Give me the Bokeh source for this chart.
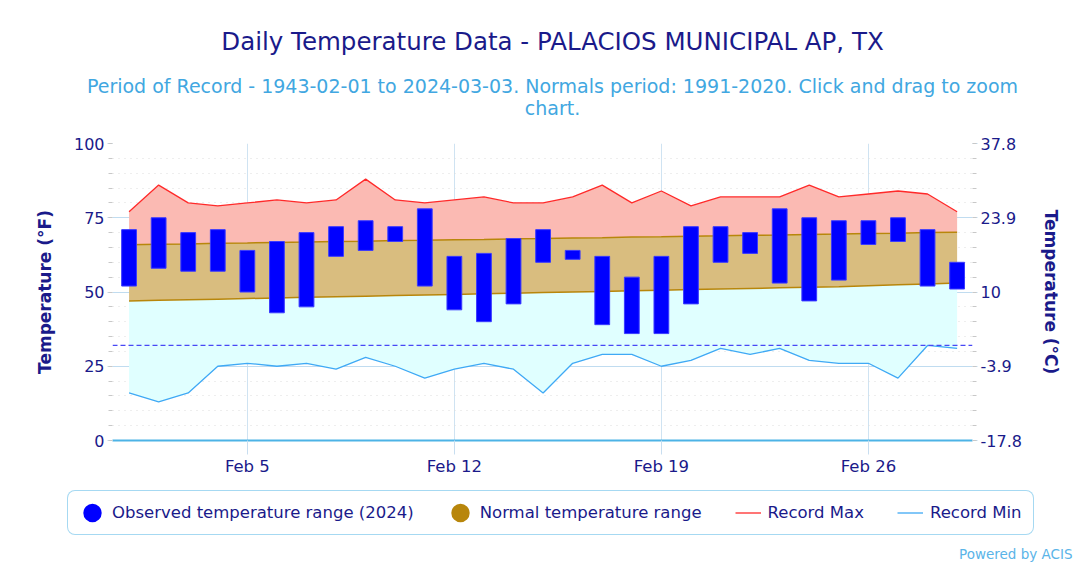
from bokeh.plotting import figure
from bokeh.layouts import column
from bokeh.models import (Range1d, FixedTicker, LinearAxis, Span, Legend, LegendItem,
                          Label, ColumnDataSource, Plot)
from bokeh.embed import file_html
from bokeh.resources import INLINE

# ---------------- data ----------------
days = [1, 2, 3, 4, 5, 6, 7, 8, 9, 10, 11, 12, 13, 14, 15, 16, 17, 18, 19, 20,
        21, 22, 23, 24, 25, 26, 27, 28, 29]
obs_max = [71, 75, 70, 71, 64, 67, 70, 72, 74, 72, 78, 62, 63, 68, 71, 64, 62, 55, 62, 72,
           72, 70, 78, 75, 74, 74, 75, 71, 60]
obs_min = [52, 58, 57, 57, 50, 43, 45, 62, 64, 67, 52, 44, 40, 46, 60, 61, 39, 36, 36, 46,
           60, 63, 53, 47, 54, 66, 67, 52, 51]
norm_max = [65.9, 66.1, 66.2, 66.4, 66.5, 66.7, 66.8, 67.0, 67.1, 67.3, 67.4, 67.6, 67.7, 67.9,
            68.0, 68.2, 68.3, 68.5, 68.6, 68.8, 68.9, 69.1, 69.2, 69.4, 69.5, 69.7, 69.8, 70.0, 70.1]
norm_min = [47.0, 47.2, 47.4, 47.6, 47.8, 48.0, 48.2, 48.4, 48.6, 48.8, 49.0, 49.2, 49.4, 49.6,
            49.8, 50.0, 50.2, 50.4, 50.6, 50.8, 51.0, 51.2, 51.4, 51.6, 51.8, 52.1, 52.4, 52.7, 53.0]
rec_max = [77, 86, 80, 79, 80, 81, 80, 81, 88, 81, 80, 81, 82, 80, 80, 82, 86, 80, 84, 79,
           82, 82, 82, 86, 82, 83, 84, 83, 77]
rec_min = [16, 13, 16, 25, 26, 25, 26, 24, 28, 25, 21, 24, 26, 24, 16, 26, 29, 29, 25, 27,
           31, 29, 31, 27, 26, 26, 21, 32, 31]
freezing = 32

tick_days = [5, 12, 19, 26]
tick_labels = ["Feb 5", "Feb 12", "Feb 19", "Feb 26"]
f_ticks = [0, 25, 50, 75, 100]
f_minor_ticks = [0, 5, 10, 15, 20, 25, 30, 35, 40, 45, 50, 55, 60, 65, 70, 75, 80, 85, 90, 95, 100]
c_tick_labels = ["-17.8", "-3.9", "10", "23.9", "37.8"]

title_text = "Daily Temperature Data - PALACIOS MUNICIPAL AP, TX"
subtitle_line1 = "Period of Record - 1943-02-01 to 2024-03-03. Normals period: 1991-2020. Click and drag to zoom"
subtitle_line2 = "chart."
credit_text = "Powered by ACIS"
legend_labels = ["Observed temperature range (2024)", "Normal temperature range",
                 "Record Max", "Record Min"]

FONT = "DejaVu Sans"
NAVY = "#1a1a8a"
SUB = "#41a7e1"
C_OBS = "#0000ff"
C_NORM_FILL = "#d9bd7f"
C_NORM = "#b8860b"
C_RMAX = "#ff2a2a"
C_RMIN = "#3fa9f5"

HAS_FRAME_ALIGN = "frame_align" in Plot.properties()


def blank_fig(h):
    kw = {}
    if HAS_FRAME_ALIGN:
        kw["frame_align"] = False
    f = figure(width=1076, height=h, output_backend="svg", toolbar_location=None,
               x_axis_type=None, y_axis_type=None, title=None,
               x_range=Range1d(0, 1), y_range=Range1d(0, 1),
               min_border=0, min_border_left=0, min_border_right=0,
               min_border_top=0, min_border_bottom=0,
               outline_line_color=None, background_fill_color="white",
               border_fill_color="white", **kw)
    f.grid.visible = False
    return f


# ---------------- title strip ----------------
top = blank_fig(133)
top.add_layout(Label(x=552, y=92, x_units="screen", y_units="screen", text=title_text,
                     text_align="center", text_baseline="middle", text_font=FONT,
                     text_font_size="24.5px", text_color=NAVY))
top.add_layout(Label(x=552, y=48, x_units="screen", y_units="screen", text=subtitle_line1,
                     text_align="center", text_baseline="middle", text_font=FONT,
                     text_font_size="19px", text_color=SUB))
top.add_layout(Label(x=552, y=26, x_units="screen", y_units="screen", text=subtitle_line2,
                     text_align="center", text_baseline="middle", text_font=FONT,
                     text_font_size="19px", text_color=SUB))

# ---------------- main chart ----------------
src = ColumnDataSource(dict(day=days, obs_max=obs_max, obs_min=obs_min,
                            norm_max=norm_max, norm_min=norm_min,
                            rec_max=rec_max, rec_min=rec_min))

pkw = {"frame_align": False} if HAS_FRAME_ALIGN else {}
p = figure(frame_width=860, frame_height=297, output_backend="svg", toolbar_location=None,
           x_range=Range1d(0.44, 29.52), y_range=Range1d(0, 100), title=None,
           min_border_left=112, min_border_right=104, min_border_top=10, min_border_bottom=40,
           outline_line_color=None, background_fill_color="white", border_fill_color="white",
           **pkw)

p.varea(x="day", y1="rec_min", y2="norm_min", source=src, fill_color="#e0ffff")
p.varea(x="day", y1="norm_max", y2="rec_max", source=src, fill_color="#fbbab3")
p.varea(x="day", y1="norm_min", y2="norm_max", source=src, fill_color=C_NORM_FILL)
p.line(x="day", y="norm_max", source=src, line_color=C_NORM, line_width=1.5)
p.line(x="day", y="norm_min", source=src, line_color=C_NORM, line_width=1.5)

p.add_layout(Span(location=freezing, dimension="width", line_color="#4848f5",
                  line_dash="5 3", line_width=1.3))

p.line(x="day", y="rec_max", source=src, line_color=C_RMAX, line_width=1.3)
p.line(x="day", y="rec_min", source=src, line_color=C_RMIN, line_width=1.3)

p.vbar(x="day", width=0.5, bottom="obs_min", top="obs_max", source=src,
       fill_color=C_OBS, line_color="#3a3aff", line_width=1)

xa = p.xaxis[0]
xa.ticker = FixedTicker(ticks=tick_days)
xa.major_label_overrides = {d: l for d, l in zip(tick_days, tick_labels)}
xa.axis_line_color = "#4db3e6"
xa.axis_line_width = 2
xa.major_tick_out = 14
xa.major_tick_in = 0
xa.major_tick_line_color = "#c8def0"
xa.minor_tick_line_color = None
xa.major_label_standoff = 2
xa.major_label_text_font = FONT
xa.major_label_text_font_size = "16.5px"
xa.major_label_text_color = NAVY

p.xgrid.ticker = FixedTicker(ticks=tick_days)
p.xgrid.grid_line_color = "#cfe3f2"

yticker = FixedTicker(ticks=f_ticks, minor_ticks=f_minor_ticks)


def style_y(ax, label):
    ax.axis_line_color = None
    ax.major_tick_out = 5
    ax.major_tick_in = 0
    ax.major_tick_line_color = "#c0dcf0"
    ax.minor_tick_out = 4
    ax.minor_tick_in = 0
    ax.minor_tick_line_color = "#c8c8c8"
    ax.major_label_standoff = 3
    ax.major_label_text_font = FONT
    ax.major_label_text_font_size = "16px"
    ax.major_label_text_color = NAVY
    ax.axis_label = label
    ax.axis_label_text_font = FONT
    ax.axis_label_text_font_size = "17px"
    ax.axis_label_text_font_style = "bold"
    ax.axis_label_text_color = NAVY
    ax.axis_label_standoff = 16


ya = p.yaxis[0]
ya.ticker = yticker
style_y(ya, "Temperature (°F)")

ra = LinearAxis(ticker=FixedTicker(ticks=f_ticks, minor_ticks=f_minor_ticks),
                major_label_overrides={f: c for f, c in zip(f_ticks, c_tick_labels)})
style_y(ra, "Temperature (°C)")
p.add_layout(ra, "right")

p.ygrid.ticker = yticker
p.ygrid.grid_line_color = "#c0dcf0"
p.ygrid.minor_grid_line_color = "#dddddd"
p.ygrid.minor_grid_line_dash = "1 5"

# ---------------- legend strip ----------------
bot = blank_fig(96)
nan = float("nan")
g_obs = bot.scatter(x=[nan], y=[nan], marker="circle", size=9, fill_color=C_OBS,
                    line_color=C_OBS, line_width=10)
g_norm = bot.scatter(x=[nan], y=[nan], marker="circle", size=9, fill_color=C_NORM,
                     line_color=C_NORM, line_width=10)
g_max = bot.line(x=[nan, nan], y=[nan, nan], line_color=C_RMAX, line_width=1.3)
g_min = bot.line(x=[nan, nan], y=[nan, nan], line_color=C_RMIN, line_width=1.3)

legend = Legend(items=[LegendItem(label=t, renderers=[r]) for t, r in
                       zip(legend_labels, [g_obs, g_norm, g_max, g_min])],
                orientation="horizontal", location=(67, 41))
legend.glyph_width = 26
legend.glyph_height = 21
legend.label_height = 21
legend.label_standoff = 7
legend.spacing = 33
legend.padding = 11
legend.margin = 0
legend.label_text_font = FONT
legend.label_text_font_size = "16.5px"
legend.label_text_color = NAVY
legend.border_line_color = "#4db3e6"
legend.border_line_width = 1.5
legend.background_fill_color = "white"
if "border_radius" in Legend.properties():
    legend.border_radius = 8
bot.add_layout(legend, "center")

bot.add_layout(Label(x=1072, y=23, x_units="screen", y_units="screen", text=credit_text,
                     text_align="right", text_baseline="middle", text_font=FONT,
                     text_font_size="13.5px", text_color="#5ab4e8"))

layout = column(top, p, bot, spacing=0)
open("out.html", "w").write(file_html(layout, INLINE))
